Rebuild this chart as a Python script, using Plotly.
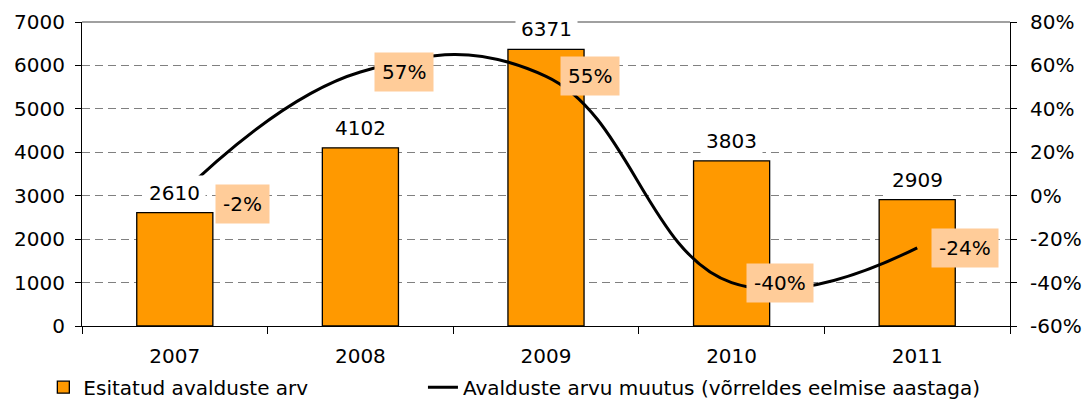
import plotly.graph_objects as go

years = ["2007", "2008", "2009", "2010", "2011"]
applications = [2610, 4102, 6371, 3803, 2909]
change = [-0.02, 0.57, 0.55, -0.40, -0.24]
left_ticks = [0, 1000, 2000, 3000, 4000, 5000, 6000, 7000]
right_tickvals = [-0.6, -0.4, -0.2, 0.0, 0.2, 0.4, 0.6, 0.8]
right_ticktext = ["-60%", "-40%", "-20%", "0%", "20%", "40%", "60%", "80%"]

FONT = "DejaVu Sans, Verdana, sans-serif"
FS = 20

fig = go.Figure()
fig.add_trace(go.Bar(
    x=years, y=applications, name="Esitatud avalduste arv",
    marker=dict(color="#FF9900", line=dict(color="#000000", width=1.3)),
    width=0.41, yaxis="y", legend="legend",
))
fig.add_trace(go.Scatter(
    x=years, y=change, name="Avalduste arvu muutus (võrreldes eelmise aastaga)",
    mode="lines", line=dict(color="#000000", width=3, shape="spline", smoothing=1.2),
    yaxis="y2", legend="legend2",
))

annotations = []
for i, v in enumerate(applications):
    annotations.append(dict(
        x=i, y=v, xref="x", yref="y", text=str(v), showarrow=False,
        yanchor="bottom", yshift=2, bgcolor="#FFFFFF", borderpad=5,
        font=dict(family=FONT, size=FS, color="#000000"),
    ))
label_shift = {0: (40, -4)}
for i, v in enumerate(change):
    dx, dy = label_shift.get(i, (14, 0))
    annotations.append(dict(
        x=i, y=v, xref="x", yref="y2", text=f"{round(v * 100)}%", showarrow=False,
        xanchor="left", yanchor="middle", xshift=dx, yshift=dy,
        bgcolor="#FFCC99", borderpad=7,
        font=dict(family=FONT, size=FS, color="#000000"),
    ))

legend_style = dict(
    orientation="h", xref="container", yref="container", yanchor="middle",
    font=dict(family=FONT, size=FS, color="#000000"), bgcolor="rgba(0,0,0,0)",
)

fig.update_layout(
    width=1084, height=397,
    margin=dict(l=74, r=82, t=14, b=79, autoexpand=False),
    paper_bgcolor="#FFFFFF", plot_bgcolor="#FFFFFF",
    font=dict(family=FONT, size=FS, color="#000000"),
    bargap=0.59,
    showlegend=True,
    legend=dict(x=0.0326, y=0.045, xanchor="left", **legend_style),
    legend2=dict(x=0.3828, y=0.045, xanchor="left", **legend_style),
    xaxis=dict(
        type="category", range=[-0.5, 4.5], showline=True, linecolor="#000000", linewidth=1,
        ticks="outside", tickson="boundaries", ticklen=7, tickcolor="#000000",
        showgrid=False, ticklabelstandoff=12,
    ),
    yaxis=dict(
        range=[0, 7000], tickvals=left_ticks, showline=True, linecolor="#000000",
        linewidth=1, ticks="outside", ticklen=6, tickcolor="#000000",
        showgrid=True, gridcolor="#808080", gridwidth=1, griddash="8px,5px",
        zeroline=False, ticklabelstandoff=6,
    ),
    yaxis2=dict(
        range=[-0.6, 0.8], tickvals=right_tickvals, ticktext=right_ticktext,
        overlaying="y", side="right", showline=True, linecolor="#000000",
        linewidth=1, ticks="outside", ticklen=6, tickcolor="#000000",
        showgrid=False, zeroline=False, ticklabelstandoff=9,
    ),
    annotations=annotations,
    shapes=[dict(type="line", xref="paper", yref="paper", x0=0, x1=1, y0=1, y1=1,
                 line=dict(color="#808080", width=1.5), layer="below")],
)

fig.write_html("out.html")
